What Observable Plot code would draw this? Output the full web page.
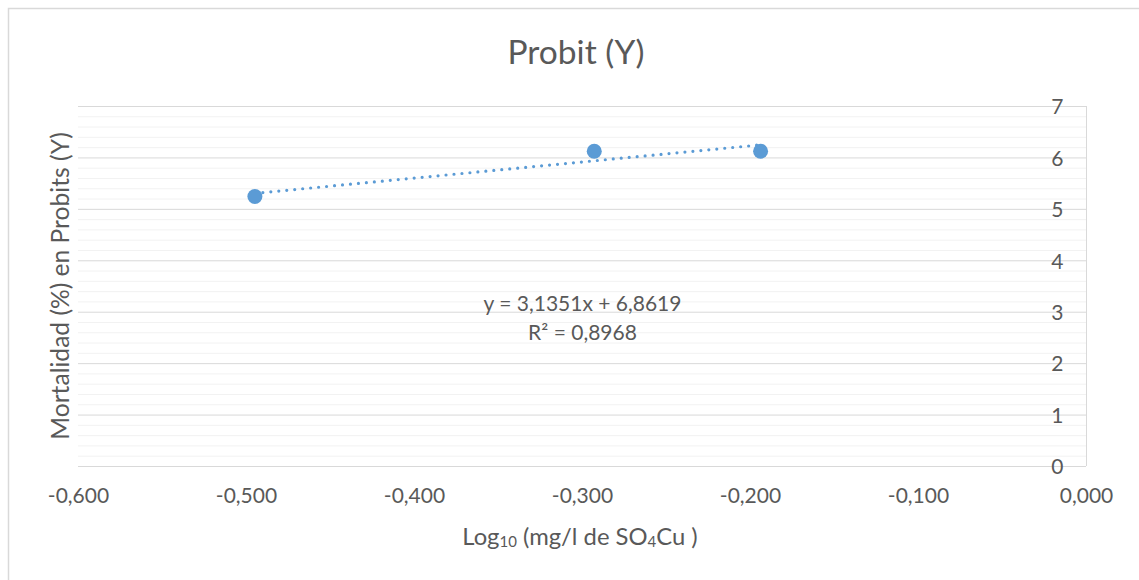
<!DOCTYPE html>
<html><head><meta charset="utf-8">
<script src="https://cdn.jsdelivr.net/npm/d3@7"></script>
<script src="https://cdn.jsdelivr.net/npm/@observablehq/plot@0.6"></script>
<style>
body{margin:0;background:#fff;}
#chart{position:relative;width:1139px;height:580px;overflow:hidden;}
#chart svg{display:block;}
</style></head><body><div id="chart"></div>
<script>
// ---- data ----
const logDose = [-0.495, -0.293, -0.194];
const probit = [5.25, 6.13, 6.13];
const xTicks = [-0.6, -0.5, -0.4, -0.3, -0.2, -0.1, 0];
const yTicks = [0, 1, 2, 3, 4, 5, 6, 7];
const yMinor = d3.range(0, 7.001, 0.2).filter(v => Math.abs(v - Math.round(v)) > 1e-6);
const chartTitle = "Probit (Y)";
const yTitle = "Mortalidad (%) en Probits (Y)";
const equationLines = ["y = 3,1351x + 6,8619", "R² = 0,8968"];

const data = logDose.map((x, i) => ({x, y: probit[i]}));
const font = "Lato, 'Open Sans', sans-serif";
const textColor = "#595959";
const blue = "#5b9bd5";

const svg = Plot.plot({
  width: 1139, height: 580,
  marginLeft: 78, marginRight: 53, marginTop: 106, marginBottom: 114,
  x: {domain: [-0.6, 0]},
  y: {domain: [0, 7]},
  style: {fontFamily: font, background: "white", color: textColor},
  marks: [
    Plot.ruleY(yMinor, {stroke: "#f2f2f2", strokeWidth: 1}),
    Plot.ruleY(yTicks, {stroke: "#d9d9d9", strokeWidth: 1}),
    Plot.ruleX([0], {stroke: "#d9d9d9", strokeWidth: 1}),
    Plot.axisY(yTicks, {anchor: "right", tickSize: 0, tickPadding: 0, textAnchor: "end", dx: -23, dy: 1,
      fontSize: 21, fill: textColor, label: null, tickFormat: d => String(d)}),
    Plot.axisX(xTicks, {anchor: "bottom", tickSize: 0, tickPadding: 22, fontSize: 21, fill: textColor,
      label: null, tickFormat: d => d.toFixed(3).replace(".", ",")}),
    Plot.linearRegressionY(data, {x: "x", y: "y", ci: 0, stroke: blue, strokeWidth: 3.2,
      strokeDasharray: "0 8", strokeLinecap: "round"}),
    Plot.dot(data, {x: "x", y: "y", r: 7.5, fill: blue, stroke: "none"}),
    Plot.text([equationLines.join("\n")], {frameAnchor: "top", lineAnchor: "middle", dy: 210,
      fontSize: 21, fill: textColor, lineHeight: 1.38, text: d => d})
  ]
});

const s = d3.select(svg);
// outer border (top and left visible)
s.append("rect").attr("x", 8.5).attr("y", 8.5).attr("width", 1300).attr("height", 700)
  .attr("fill", "none").attr("stroke", "#d9d9d9").attr("stroke-width", 1.5);
// title
s.append("text").attr("x", 576).attr("y", 64).attr("text-anchor", "middle")
  .attr("font-family", font).attr("font-size", 33.5).attr("fill", textColor).text(chartTitle);
// y axis title
s.append("text").attr("transform", "translate(60,286) rotate(-90)").attr("text-anchor", "middle")
  .attr("dy", "0.35em").attr("font-family", font).attr("font-size", 24.6).attr("fill", textColor).text(yTitle);
// x axis title with subscripts
const xt = s.append("text").attr("x", 580).attr("y", 545).attr("text-anchor", "middle")
  .attr("font-family", font).attr("font-size", 23.8).attr("fill", textColor);
xt.append("tspan").text("Log");
xt.append("tspan").attr("font-size", 15).attr("dy", 2).text("10");
xt.append("tspan").attr("dy", -2).text(" (mg/l de SO");
xt.append("tspan").attr("font-size", 15).attr("dy", 2).text("4");
xt.append("tspan").attr("dy", -2).text("Cu )");

document.getElementById("chart").appendChild(svg);
</script>
</body></html>
